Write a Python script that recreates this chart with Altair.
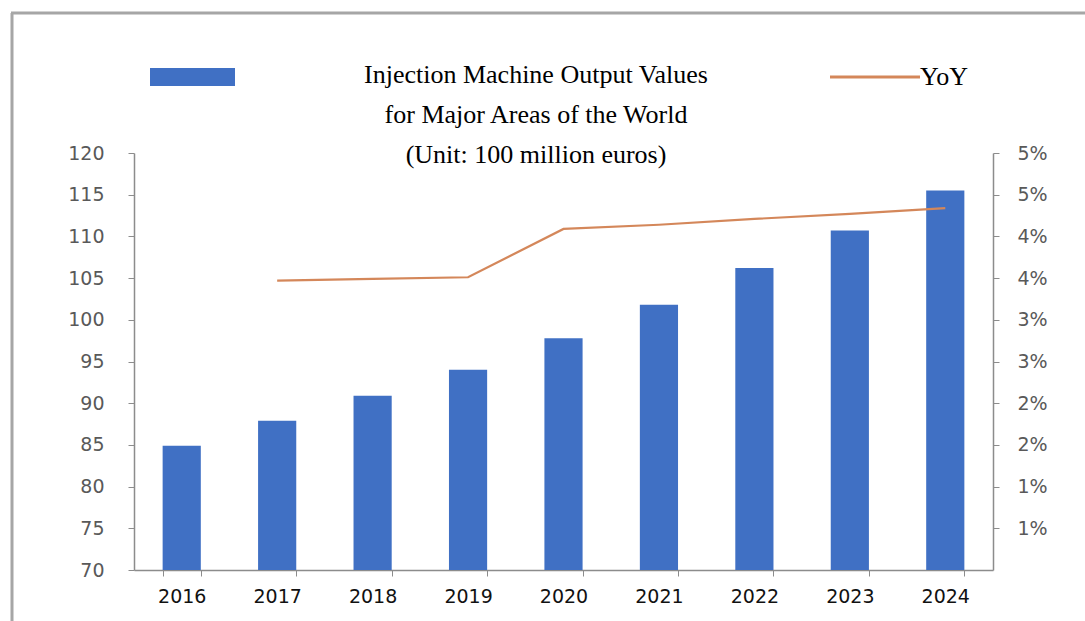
import altair as alt
import pandas as pd

years = ["2016", "2017", "2018", "2019", "2020", "2021", "2022", "2023", "2024"]
output_values = [84.9, 87.9, 90.9, 94.0, 97.8, 101.8, 106.2, 110.7, 115.5]

yoy_years = ["2017", "2018", "2019", "2020", "2021", "2022", "2023", "2024"]
yoy_values = [0.0347, 0.0349, 0.0351, 0.0409, 0.0414, 0.0421, 0.0427, 0.0434]

left_ticks = [70, 75, 80, 85, 90, 95, 100, 105, 110, 115, 120]
right_ticks = [0.005, 0.01, 0.015, 0.02, 0.025, 0.03, 0.035, 0.04, 0.045, 0.05]
right_labels = ["1%", "1%", "2%", "2%", "3%", "3%", "4%", "4%", "5%", "5%"]

title_lines = ["Injection Machine Output Values", "for Major Areas of the World",
               "(Unit: 100 million euros)"]
line_name = "YoY"

BAR_COLOR = "#4070C4"
LINE_COLOR = "#D4875A"
AXIS_COLOR = "#8C8C8C"
LABEL_GRAY = "#595959"

bars_df = pd.DataFrame({"Year": years, "Value": output_values})
yoy_df = pd.DataFrame({"Year": yoy_years, "YoY": yoy_values})

label_arr = "[" + ",".join("'" + s + "'" for s in right_labels) + "]"
right_label_expr = f"{label_arr}[round(datum.value * 200) - 1]"

x_enc = alt.X(
    "Year:N",
    sort=years,
    scale=alt.Scale(domain=years, paddingInner=0.6, paddingOuter=0.3),
    axis=alt.Axis(
        title=None, labelAngle=0, tickBand="extent", tickSize=6,
        tickColor=AXIS_COLOR, domainColor=AXIS_COLOR, domainWidth=1.5,
        labelColor="#111111", labelFont="DejaVu Sans", labelFontSize=19,
        labelPadding=11, grid=False,
    ),
)

bars = alt.Chart(bars_df).mark_bar(color=BAR_COLOR, clip=True).encode(
    x=x_enc,
    y=alt.Y(
        "Value:Q",
        scale=alt.Scale(domain=[70, 120], zero=False, nice=False),
        axis=alt.Axis(
            title=None, orient="left", values=left_ticks, tickSize=6,
            tickColor=AXIS_COLOR, domainColor=AXIS_COLOR, domainWidth=1.5,
            labelColor=LABEL_GRAY, labelFont="DejaVu Sans", labelFontSize=19,
            labelPadding=24, grid=False,
        ),
    ),
)

line = alt.Chart(yoy_df).mark_line(color=LINE_COLOR, strokeWidth=2.2).encode(
    x=alt.X("Year:N", sort=years),
    y=alt.Y(
        "YoY:Q",
        scale=alt.Scale(domain=[0, 0.05], nice=False, zero=True),
        axis=alt.Axis(
            title=None, orient="right", values=right_ticks, tickSize=6,
            tickColor=AXIS_COLOR, domainColor=AXIS_COLOR, domainWidth=1.5,
            labelColor=LABEL_GRAY, labelFont="DejaVu Sans", labelFontSize=19,
            labelPadding=18, labelExpr=right_label_expr, grid=False,
        ),
    ),
)

one = alt.Data(values=[{"k": 1}])

title_text = alt.Chart(one).mark_text(
    text=title_lines, font="Liberation Serif", fontSize=26, color="black",
    align="center", baseline="middle", lineHeight=40,
).encode(x=alt.value(402), y=alt.value(-78))

legend_rect = alt.Chart(one).mark_rect(color=BAR_COLOR).encode(
    x=alt.value(16), x2=alt.value(101), y=alt.value(-85), y2=alt.value(-67)
)

legend_line = alt.Chart(one).mark_rule(color=LINE_COLOR, strokeWidth=3).encode(
    x=alt.value(696), x2=alt.value(786), y=alt.value(-76)
)

legend_text = alt.Chart(one).mark_text(
    text=line_name, font="Liberation Serif", fontSize=26, color="black",
    align="left", baseline="middle",
).encode(x=alt.value(786), y=alt.value(-76))

frame_v = alt.Chart(one).mark_rule(color="#A6A6A6", strokeWidth=3).encode(
    x=alt.value(-122), y=alt.value(-140), y2=alt.value(470)
)
frame_h = alt.Chart(one).mark_rule(color="#A6A6A6", strokeWidth=3).encode(
    x=alt.value(-123), x2=alt.value(960), y=alt.value(-140)
)

chart = (
    alt.layer(bars, line, title_text, legend_rect, legend_line, legend_text, frame_v, frame_h)
    .resolve_scale(y="independent")
    .properties(
        width=859,
        height=417,
        autosize=alt.AutoSizeParams(type="none"),
        padding={"left": 134, "top": 153, "right": 92, "bottom": 51},
        background="white",
    )
    .configure_view(stroke=None)
)

chart.save("out.html", embed_options={"renderer": "svg", "actions": False})
